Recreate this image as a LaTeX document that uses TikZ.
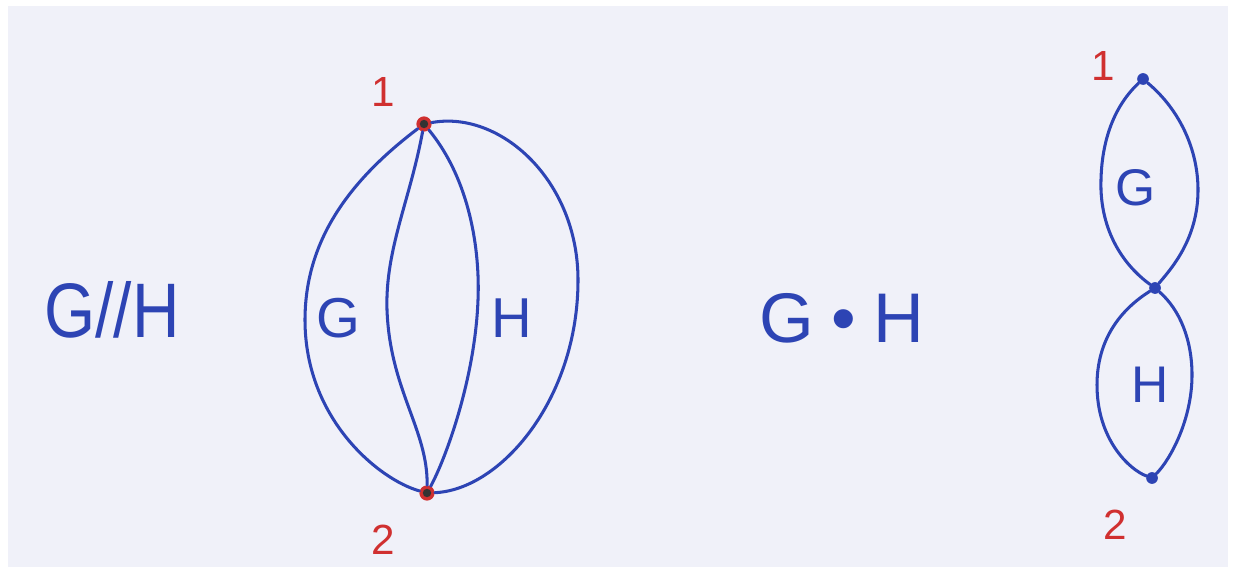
\documentclass[tikz,border=0pt]{standalone}
\usepackage{fontspec}
\newfontfamily\hand{Liberation Sans}
\definecolor{ink}{HTML}{2D44B4}
\definecolor{redink}{HTML}{D03030}
\definecolor{paper}{HTML}{F0F1F9}
\tikzset{
  edge/.style={draw=ink, line width=2.6pt, line cap=round},
  redv/.style={circle, fill=redink, inner sep=0pt, minimum size=13pt, path picture={\fill[black!80] (path picture bounding box.center) circle (3.6pt);}},
  bluev/.style={circle, fill=ink, inner sep=0pt, minimum size=10pt},
  numlab/.style={text=redink, font=\hand\fontsize{36}{38}\selectfont},
  biglab/.style={text=ink, font=\hand\fontsize{66}{70}\selectfont},
  midlab/.style={text=ink, font=\hand\fontsize{60}{64}\selectfont},
  glab/.style={text=ink, font=\hand\fontsize{48}{50}\selectfont},
  slab/.style={text=ink, font=\hand\fontsize{44}{46}\selectfont}
}
\begin{document}
\begin{tikzpicture}[x=0.03cm,y=-0.03cm]
\useasboundingbox (0,0) rectangle (1234,573);
\fill[white] (0,0) rectangle (1234,573);
\fill[paper] (8,6) rectangle (1228,567);

% left expression
\node[biglab, xscale=0.85] (gh) at (112,310) {G//H};

% parallel composition graph
\node[redv] (n1) at (424,124) {};
\node[redv] (n2) at (427,493) {};
\node[numlab] (l1) at (383,92) {1};
\node[numlab] (l2) at (383,540) {2};
\draw[edge] (n1) .. controls (350,180) and (305,240) .. (305,320) .. controls (305,420) and (380,480) .. (n2);
\draw[edge] (n1) .. controls (410,200) and (385,250) .. (387,310) .. controls (390,390) and (428,430) .. (n2);
\draw[edge] (n1) .. controls (470,180) and (480,250) .. (478,300) .. controls (475,380) and (445,460) .. (n2);
\draw[edge] (n1) .. controls (500,110) and (578,180) .. (578,280) .. controls (578,400) and (500,490) .. (n2);
\node[glab] (lg) at (338,318) {G};
\node[glab] (lh) at (512,318) {H};

% middle expression
\node[midlab] (gs) at (842,318) {G\hspace{0.25em}•\hspace{0.25em}H};

% series composition graph
\node[bluev] (a1) at (1143,79) {};
\node[bluev] (a2) at (1155,288) {};
\node[bluev] (a3) at (1152,478) {};
\node[numlab] (r1) at (1103,66) {1};
\node[numlab] (r2) at (1115,525) {2};
\draw[edge] (a1) .. controls (1110,110) and (1100,150) .. (1101,190) .. controls (1103,240) and (1130,270) .. (a2);
\draw[edge] (a1) .. controls (1180,110) and (1198,150) .. (1198,190) .. controls (1198,240) and (1170,270) .. (a2);
\draw[edge] (a2) .. controls (1120,310) and (1097,340) .. (1097,385) .. controls (1097,440) and (1130,470) .. (a3);
\draw[edge] (a2) .. controls (1180,310) and (1192,340) .. (1192,375) .. controls (1192,420) and (1170,460) .. (a3);
\node[slab] (rg) at (1136,188) {G};
\node[slab] (rh) at (1150,385) {H};
\end{tikzpicture}
\end{document}
